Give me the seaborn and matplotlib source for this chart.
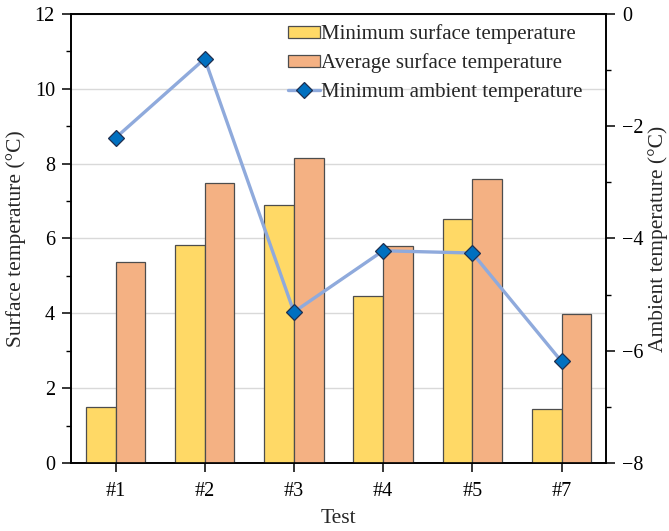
import numpy as np
import pandas as pd
import matplotlib
matplotlib.use("Agg")
import matplotlib.pyplot as plt
from matplotlib.ticker import MultipleLocator
import seaborn as sns

# Test data
tests = ["#1", "#2", "#3", "#4", "#5", "#7"]
min_surface = [1.51, 5.82, 6.89, 4.46, 6.51, 1.45]
avg_surface = [5.36, 7.47, 8.15, 5.79, 7.58, 3.98]
min_ambient = [-2.21, -0.80, -5.31, -4.22, -4.26, -6.19]

series_names = ["Minimum surface temperature", "Average surface temperature"]
line_name = "Minimum ambient temperature"

sns.set_theme(style="white")
plt.rcParams["font.family"] = ["Liberation Serif", "DejaVu Serif"]
FS = 14.5
LFS = 15.5

df = pd.DataFrame({
    "Test": tests * 2,
    "Temperature": min_surface + avg_surface,
    "Series": [series_names[0]] * len(tests) + [series_names[1]] * len(tests),
})

fig = plt.figure(figsize=(6.69, 5.31), dpi=100)
ax = fig.add_axes([0.106, 0.128, 0.800, 0.846])

sns.barplot(
    data=df, x="Test", y="Temperature", hue="Series", order=tests,
    hue_order=series_names, palette=["#FFD966", "#F4B183"],
    width=0.667, gap=0, edgecolor="#4d4d4d", linewidth=0.9,
    saturation=1, ax=ax, zorder=3,
)
bar_handles, bar_labels = ax.get_legend_handles_labels()
ax.get_legend().remove()

ax.set_ylim(0, 12)
ax.set_xlim(-0.5, len(tests) - 0.5)
ax.yaxis.set_major_locator(MultipleLocator(2))
ax.yaxis.set_minor_locator(MultipleLocator(1))
ax.grid(axis="y", color="#d9d9d9", linewidth=1.0, zorder=0)
ax.set_axisbelow(True)
ax.set_xlabel("Test", fontsize=LFS, labelpad=6)
ax.set_ylabel("Surface temperature (°C)", fontsize=LFS, labelpad=6)

# Ambient temperature on the secondary axis
ax2 = ax.twinx()
sns.lineplot(
    x=np.arange(len(tests)), y=min_ambient, ax=ax2, color="#8FAADC",
    linewidth=2.4, marker="D", markersize=8.5, markerfacecolor="#0070C0",
    markeredgecolor="#1f2f4f", markeredgewidth=0.9, label=line_name,
    zorder=5,
)
line_handles, line_labels = ax2.get_legend_handles_labels()
ax2.get_legend().remove()
ax2.set_ylim(-8, 0)
ax2.yaxis.set_major_locator(MultipleLocator(2))
ax2.yaxis.set_minor_locator(MultipleLocator(1))
ax2.set_xlim(-0.5, len(tests) - 0.5)
ax2.set_ylabel("Ambient temperature (°C)", fontsize=LFS, labelpad=3)
ax2.grid(False)

for a in (ax, ax2):
    for s in a.spines.values():
        s.set_color("black")
        s.set_linewidth(1.2)
    a.tick_params(axis="both", which="major", direction="out", length=6.5,
                  width=1.1, colors="black", labelsize=FS, pad=5)
    a.tick_params(axis="y", which="minor", direction="out", length=3.5,
                  width=1.0, colors="black")
ax.tick_params(axis="y", which="both", left=True, right=False)
ax.tick_params(axis="x", which="major", bottom=True, pad=7)
ax2.tick_params(axis="y", which="both", right=True, left=False)

ax2.legend(
    bar_handles + line_handles, bar_labels + line_labels,
    loc="upper right", bbox_to_anchor=(0.976, 1.0), frameon=False,
    fontsize=15, handlelength=1.5, handleheight=0.5, handletextpad=0.08,
    labelspacing=0.45, borderaxespad=0.1,
)

fig.savefig("out.png", dpi=100)
